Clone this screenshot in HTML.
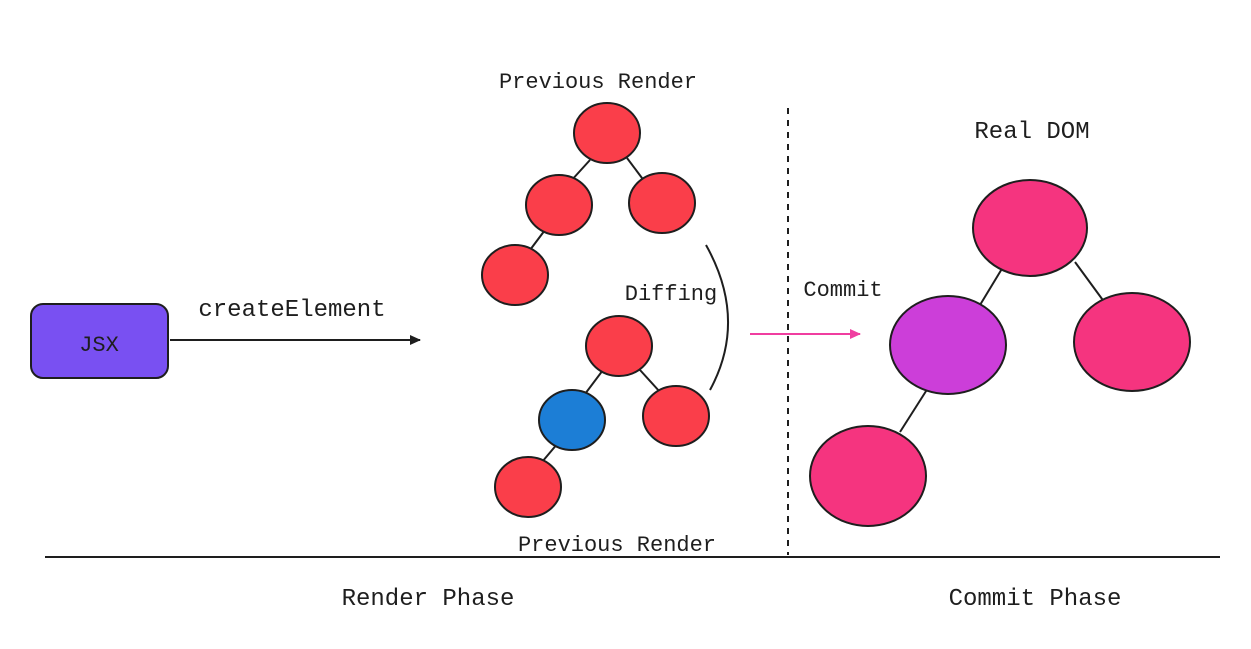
<!DOCTYPE html>
<html><head><meta charset="utf-8"><style>
html,body{margin:0;padding:0;background:#fff;}
svg{display:block}
text{font-family:"Liberation Mono","DejaVu Sans Mono",monospace;fill:#1e1e1e;}
</style></head><body>
<svg width="1251" height="649" viewBox="0 0 1251 649" xmlns="http://www.w3.org/2000/svg">
<rect width="1251" height="649" fill="#fff"/>
<defs>
<marker id="ab" markerWidth="12" markerHeight="12" refX="10" refY="6" orient="auto" markerUnits="userSpaceOnUse"><path d="M0,1 L11,6 L0,11 Z" fill="#1e1e1e"/></marker>
<marker id="ap" markerWidth="12" markerHeight="12" refX="10" refY="6" orient="auto" markerUnits="userSpaceOnUse"><path d="M0,1 L11,6 L0,11 Z" fill="#f03ea0"/></marker>
</defs>
<!-- JSX -->
<rect x="31" y="304" width="137" height="74" rx="12" fill="#7950f2" stroke="#1e1e1e" stroke-width="2"/>
<text x="99" y="351" font-size="22" text-anchor="middle">JSX</text>
<line x1="170" y1="340" x2="420" y2="340" stroke="#1e1e1e" stroke-width="2" marker-end="url(#ab)"/>
<text x="292" y="316" font-size="24" text-anchor="middle">createElement</text>
<!-- top tree -->
<text x="598" y="88" font-size="22" text-anchor="middle">Previous Render</text>
<g stroke="#1e1e1e" stroke-width="2">
<line x1="590" y1="160" x2="570" y2="182"/><line x1="627" y1="158" x2="645" y2="182"/><line x1="545" y1="230" x2="530" y2="250"/>
<ellipse cx="607" cy="133" rx="33" ry="30" fill="#fa3e4a"/>
<ellipse cx="559" cy="205" rx="33" ry="30" fill="#fa3e4a"/>
<ellipse cx="662" cy="203" rx="33" ry="30" fill="#fa3e4a"/>
<ellipse cx="515" cy="275" rx="33" ry="30" fill="#fa3e4a"/>
</g>
<!-- bottom tree -->
<g stroke="#1e1e1e" stroke-width="2">
<line x1="603" y1="370" x2="585" y2="394"/><line x1="640" y1="370" x2="660" y2="392"/><line x1="558" y1="443" x2="542" y2="462"/>
<ellipse cx="619" cy="346" rx="33" ry="30" fill="#fa3e4a"/>
<ellipse cx="572" cy="420" rx="33" ry="30" fill="#1c7ed6"/>
<ellipse cx="676" cy="416" rx="33" ry="30" fill="#fa3e4a"/>
<ellipse cx="528" cy="487" rx="33" ry="30" fill="#fa3e4a"/>
</g>
<text x="617" y="551" font-size="22" text-anchor="middle">Previous Render</text>
<text x="671" y="300" font-size="22" text-anchor="middle">Diffing</text>
<path d="M706,245 Q748,320 710,390" fill="none" stroke="#1e1e1e" stroke-width="2"/>
<!-- divider -->
<line x1="788" y1="108" x2="788" y2="555" stroke="#1e1e1e" stroke-width="2" stroke-dasharray="6,6"/>
<line x1="750" y1="334" x2="860" y2="334" stroke="#f03ea0" stroke-width="2" marker-end="url(#ap)"/>
<text x="843" y="296" font-size="22" text-anchor="middle">Commit</text>
<!-- right tree -->
<text x="1032" y="138" font-size="24" text-anchor="middle">Real DOM</text>
<g stroke="#1e1e1e" stroke-width="2">
<line x1="1003" y1="267" x2="980" y2="305"/><line x1="1075" y1="262" x2="1105" y2="303"/><line x1="928" y1="388" x2="900" y2="432"/>
<ellipse cx="1030" cy="228" rx="57" ry="48" fill="#f5347f"/>
<ellipse cx="948" cy="345" rx="58" ry="49" fill="#cc3ed9"/>
<ellipse cx="1132" cy="342" rx="58" ry="49" fill="#f5347f"/>
<ellipse cx="868" cy="476" rx="58" ry="50" fill="#f5347f"/>
</g>
<line x1="45" y1="557" x2="1220" y2="557" stroke="#1e1e1e" stroke-width="2"/>
<text x="428" y="605" font-size="24" text-anchor="middle">Render Phase</text>
<text x="1035" y="605" font-size="24" text-anchor="middle">Commit Phase</text>
</svg>
</body></html>
